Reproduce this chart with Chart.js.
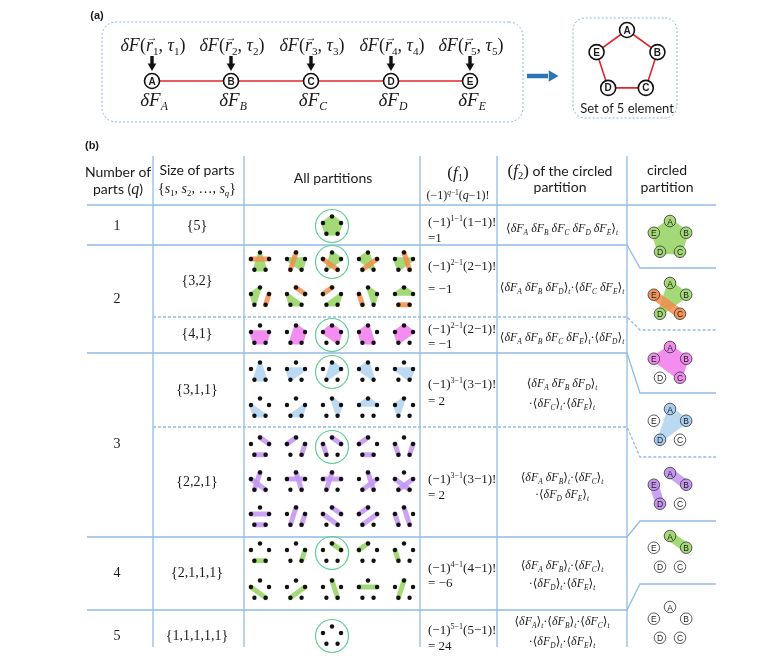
<!DOCTYPE html>
<html>
<head>
<meta charset="utf-8">
<script src="https://cdn.jsdelivr.net/npm/chart.js@4.4.1/dist/chart.umd.min.js"></script>
<style>
  body { margin: 0; background: #fff; }
  #wrap { position: relative; width: 764px; height: 663px; overflow: hidden; }
  #fig { position: absolute; left: 0; top: 0; }
  .t { position: absolute; white-space: nowrap; transform: translate(-50%, -50%); line-height: 1; color: #1a1a1a; }
  .l { transform: translate(0, -50%); }
  .serif { font-family: 'Liberation Serif', 'DejaVu Serif', serif; }
  .sans { font-family: Lato, 'Open Sans', sans-serif; }
  .arial { font-family: 'Liberation Sans', Arial, sans-serif; }
  .b { font-weight: bold; }
  .s8 { font-size: 8.5px; } .s10 { font-size: 10px; } .s11 { font-size: 11px; } .s12 { font-size: 12px; }
  .s13 { font-size: 13px; } .s14 { font-size: 14px; } .s16 { font-size: 16px; } .s17 { font-size: 17px; }
  .s18 { font-size: 18px; } .s19 { font-size: 19px; }
  sub, sup { font-size: 0.62em; line-height: 0; }
  sub { vertical-align: -0.35em; }
  sup { vertical-align: 0.55em; }
  .vec { position: relative; display: inline-block; }
  .vec::after { content: '\2192'; position: absolute; left: 0.08em; top: -0.38em; font-size: 0.6em; font-style: normal; }
</style>
</head>
<body>
<div id="wrap"><canvas id="fig" width="764" height="663"></canvas></div>
<script>
// ---- data ----
const letters = ['A', 'B', 'C', 'D', 'E'];
const qLabels = ['1', '2', '3', '4', '5'];
const sizeLabels = ['{5}', '{3,2}', '{4,1}', '{3,1,1}', '{2,2,1}', '{2,1,1,1}', '{1,1,1,1,1}'];
const f1Q = [1, 2, 2, 3, 3, 4, 5];
const f1Values = ['=1', '= −1', '= −1', '= 2', '= 2', '= −6', '= 24'];
const f2Lines = [
  ['[ABCDE]'],
  ['[ABD]·[CE]'],
  ['[ABCE]·[D]'],
  ['[ABD]', '·[C]·[E]'],
  ['[AB]·[C]', '·[DE]'],
  ['[AB]·[C]', '·[D]·[E]'],
  ['[A]·[B]·[C]', '·[D]·[E]']
];
// every partition of the 5 elements, grouped by size of parts
const parts5 = [['ABCDE']];
const parts32 = [['ACD', 'BE'], ['BCE', 'AD'], ['ABD', 'CE'], ['ACE', 'BD'], ['BDE', 'AC'],
                 ['ADE', 'BC'], ['CDE', 'AB'], ['BCD', 'AE'], ['ABC', 'DE'], ['ABE', 'CD']];
const parts41 = [['BCDE', 'A'], ['ABCD', 'E'], ['ABCE', 'D'], ['ACDE', 'B'], ['ABDE', 'C']];
const parts311 = [['ACD', 'B', 'E'], ['BDE', 'A', 'C'], ['ABD', 'C', 'E'], ['ACE', 'B', 'D'], ['BCE', 'A', 'D'],
                  ['CDE', 'A', 'B'], ['BCD', 'A', 'E'], ['ABC', 'D', 'E'], ['ABE', 'C', 'D'], ['ADE', 'B', 'C']];
const parts221 = [['AB', 'CD', 'E'], ['AE', 'BC', 'D'], ['AB', 'DE', 'C'], ['AE', 'CD', 'B'], ['BC', 'DE', 'A'],
                  ['AD', 'CE', 'B'], ['AC', 'BE', 'D'], ['AD', 'BE', 'C'], ['AC', 'BD', 'E'], ['BD', 'CE', 'A'],
                  ['BE', 'CD', 'A'], ['AD', 'BC', 'E'], ['AB', 'CE', 'D'], ['AE', 'BD', 'C'], ['AC', 'DE', 'B']];
const parts2111 = [['CD', 'A', 'B', 'E'], ['BC', 'A', 'D', 'E'], ['AB', 'C', 'D', 'E'], ['AE', 'B', 'C', 'D'], ['DE', 'A', 'B', 'C'],
                   ['CE', 'A', 'B', 'D'], ['BD', 'A', 'C', 'E'], ['AC', 'B', 'D', 'E'], ['BE', 'A', 'C', 'D'], ['AD', 'B', 'C', 'E']];
const parts11111 = [['A', 'B', 'C', 'D', 'E']];
const partitions = [parts5, parts32, parts41, parts311, parts221, parts2111, parts11111];
const circledIndex = [0, 2, 2, 2, 2, 2, 0];

// ---- styles / layout ----
const green = '#a3d977';
const blockColors = [
  { 5: green },
  { 3: green, 2: 'rgba(242,140,76,0.85)' },
  { 4: '#f38ef0' },
  { 3: '#bcd9f2' },
  { 2: 'rgba(196,150,240,0.88)' },
  { 2: green },
  {}
];
const solidColors = [
  { 5: green }, { 3: green, 2: '#f2935a' }, { 4: '#f08aec' }, { 3: '#a9cdee' }, { 2: '#c596ef' }, { 2: green }, {}
];
const gridCols = [260, 296, 332, 368, 404];
const gridRows = [[226], [262, 297], [335], [372, 408], [447, 482, 517], [553, 590], [636]];
const rightCenters = [238, 300, 364, 426, 490, 553, 624];
const sizeY = [226, 281, 334, 390, 482, 573, 636];
const qY = [226, 299, 444, 573, 636];
const f1Y = [[221, 237], [265, 288], [328, 343], [383, 400], [478, 494], [567, 582], [629, 645]];
const f2Y = [[228], [287], [337], [383, 403], [477, 494], [565, 583], [621, 641]];
const aX = [152, 231, 311, 391, 470];
const lineBlue = '#92bce6';

const wrap = document.getElementById('wrap');
function addText(x, y, html, cls) {
  const d = document.createElement('div');
  d.className = 't ' + cls;
  d.style.left = x + 'px';
  d.style.top = y + 'px';
  d.innerHTML = html;
  wrap.appendChild(d);
}

function vtx(cx, cy, r, ch) {
  const a = (-90 + 72 * letters.indexOf(ch)) * Math.PI / 180;
  return { x: cx + r * Math.cos(a), y: cy + r * Math.sin(a) };
}

const datasets = [];
function addLine(pts, color, width, order, extra) {
  datasets.push(Object.assign({
    data: pts, showLine: true, borderColor: color, borderWidth: width,
    pointRadius: 0, pointHoverRadius: 0, fill: false, order: order
  }, extra || {}));
}
function addPoints(pts, opts, order) {
  datasets.push(Object.assign({ data: pts, showLine: false, order: order }, opts));
}
function addBlock(block, cx, cy, r, color, barW, polyW) {
  const pts = block.split('').map(ch => vtx(cx, cy, r, ch));
  if (pts.length === 2) {
    addLine(pts, color, barW, 14, { borderCapStyle: 'round' });
  } else if (pts.length > 2) {
    pts.push(pts[0]);
    addLine(pts, color, polyW, 16, { fill: 'shape', backgroundColor: color, borderJoinStyle: 'round' });
  }
}
function roundRect(x0, y0, x1, y1, r) {
  const pts = [];
  const corners = [[x1 - r, y0 + r, -90], [x1 - r, y1 - r, 0], [x0 + r, y1 - r, 90], [x0 + r, y0 + r, 180]];
  corners.forEach(([cx, cy, a0]) => {
    for (let k = 0; k <= 8; k++) {
      const a = (a0 + k * 90 / 8) * Math.PI / 180;
      pts.push({ x: cx + r * Math.cos(a), y: cy + r * Math.sin(a) });
    }
  });
  pts.push(pts[0]);
  return pts;
}

// ---- (a) ----
addLine(roundRect(102, 22, 523, 122, 14), '#8db3da', 1, 20, { borderDash: [2, 2] });
addLine(roundRect(573, 18, 677, 118, 12), '#8db3da', 1, 20, { borderDash: [2, 2] });
addLine(aX.map(x => ({ x: x, y: 81 })), '#e2242c', 1.6, 12);
aX.forEach(x => addLine([{ x: x, y: 56 }, { x: x, y: 64 }], '#111', 3.4, 11));
addPoints(aX.map(x => ({ x: x, y: 66 })), { pointStyle: 'triangle', pointRotation: 180, pointRadius: 5, pointBackgroundColor: '#111', pointBorderWidth: 0 }, 10);
addPoints(aX.map(x => ({ x: x, y: 81 })), { pointRadius: 7.5, pointBackgroundColor: '#fff', pointBorderColor: '#111', pointBorderWidth: 1.6 }, 3);
const penta = letters.map(ch => vtx(627, 62, 32, ch));
addLine(penta.concat([penta[0]]), '#e2242c', 1.6, 12);
addPoints(penta, { pointRadius: 7.5, pointBackgroundColor: '#fff', pointBorderColor: '#111', pointBorderWidth: 1.6 }, 3);
addLine([{ x: 527, y: 76 }, { x: 548, y: 76 }], '#2e75b6', 4.5, 11);
addPoints([{ x: 552, y: 76 }], { pointStyle: 'triangle', pointRotation: 90, pointRadius: 6.5, pointBackgroundColor: '#2e75b6', pointBorderWidth: 0 }, 10);

addText(97, 15, '(a)', 'arial b s11');
aX.forEach((x, i) => {
  addText(x + 1, 45, '<i>δF</i>(<i class="vec">r</i><sub>' + (i + 1) + '</sub>, <i>τ</i><sub>' + (i + 1) + '</sub>)', 'serif s18');
  addText(x, 81.5, letters[i], 'arial b s10');
  addText(x + 2, 99, '<i>δF<sub>' + letters[i] + '</sub></i>', 'serif s19');
});
penta.forEach((p, i) => addText(p.x, p.y + 0.5, letters[i], 'arial b s10'));
addText(627, 108, 'Set of 5 element', 'sans s13');

// ---- (b) table ----
addText(92, 145, '(b)', 'arial b s11');
[153, 244, 420, 497, 627].forEach(x => addLine([{ x: x, y: 156 }, { x: x, y: 647 }], lineBlue, 1.3, 20));
addLine([{ x: 87, y: 205 }, { x: 716, y: 205 }], lineBlue, 1.3, 20);
const hLines = [[245, 87, 268, false], [317, 153, 330, true], [353, 87, 393, false], [427, 153, 457, true], [537, 87, 521, false], [610, 87, 584, false]];
hLines.forEach(([y, x0, y2, dashed]) => {
  addLine([{ x: x0, y: y }, { x: 627, y: y }, { x: 640, y: y2 }, { x: 716, y: y2 }], lineBlue, 1.3, 20, dashed ? { borderDash: [3, 2] } : {});
});

// all partitions grid
const dotPts = [];
const ringPts = [];
partitions.forEach((group, g) => {
  group.forEach((part, i) => {
    const cx = group.length === 1 ? 332 : gridCols[i % 5];
    const cy = gridRows[g][Math.floor(i / 5)];
    part.forEach(block => addBlock(block, cx, cy, 9.5, blockColors[g][block.length], 5, 3.5));
    letters.forEach(ch => dotPts.push(vtx(cx, cy, 9.5, ch)));
    if (i === circledIndex[g]) ringPts.push({ x: cx, y: cy });
  });
});
addPoints(dotPts, { pointRadius: 2.2, pointBackgroundColor: '#111', pointBorderWidth: 0 }, 5);
addPoints(ringPts, { pointRadius: 16.5, pointBackgroundColor: 'rgba(0,0,0,0)', pointBorderColor: '#60cf92', pointBorderWidth: 1.2 }, 6);

// circled partition column
partitions.forEach((group, g) => {
  const part = group[circledIndex[g]];
  const cy = rightCenters[g];
  part.forEach(block => addBlock(block, 670, cy, 17, blockColors[g][block.length], 9, 5));
  const circ = [];
  const fills = [];
  part.forEach(block => block.split('').forEach(ch => {
    const p = vtx(670, cy, 17, ch);
    circ.push(p);
    fills.push(block.length > 1 ? solidColors[g][block.length] : '#fff');
    addText(p.x, p.y + 0.5, ch, 'arial s8');
  }));
  addPoints(circ, { pointRadius: 5.8, pointBackgroundColor: fills, pointBorderColor: '#333', pointBorderWidth: 0.8 }, 3);
});

// header
addText(118, 172, 'Number of', 'sans s14');
addText(118, 189, 'parts (<i class="serif s16">q</i>)', 'sans s14');
addText(197, 170, 'Size of parts', 'sans s14');
addText(197, 189, '{<i>s</i><sub>1</sub>, <i>s</i><sub>2</sub>, …, <i>s<sub>q</sub></i>}', 'serif s14');
addText(333, 178, 'All partitions', 'sans s14');
addText(458, 172, '(<i>f</i><sub>1</sub>)', 'serif s17');
addText(458, 195, '(−1)<sup><i>q</i>−1</sup>(<i>q</i>−1)!', 'serif s12');
addText(560, 170, '<span class="serif s17">(<i>f</i><sub>2</sub>)</span> of the circled', 'sans s14');
addText(560, 187, 'partition', 'sans s14');
addText(667, 170, 'circled', 'sans s14');
addText(667, 187, 'partition', 'sans s14');

// body text
qLabels.forEach((q, i) => addText(117, qY[i], q, 'serif s14'));
sizeLabels.forEach((s, i) => addText(197, sizeY[i], s, 'serif s14'));
function bra(s) {
  return s.replace(/\[([A-E]+)\]/g, (m, grp) =>
    '⟨' + grp.split('').map(c => '<i>δF</i><sub><i>' + c + '</i></sub>').join(' ') + '⟩<sub><i>t</i></sub>');
}
f1Q.forEach((q, i) => {
  addText(428, f1Y[i][0], '(−1)<sup>' + q + '−1</sup>(' + q + '−1)!', 'serif s13 l');
  addText(428, f1Y[i][1], f1Values[i], 'serif s13 l');
  f2Lines[i].forEach((line, k) => addText(562, f2Y[i][k], bra(line), 'serif s12'));
});

new Chart(document.getElementById('fig'), {
  type: 'scatter',
  data: { datasets: datasets },
  options: {
    responsive: false,
    animation: false,
    events: [],
    layout: { padding: 0, autoPadding: false },
    scales: {
      x: { type: 'linear', min: 0, max: 764, display: false },
      y: { type: 'linear', min: 0, max: 663, reverse: true, display: false }
    },
    plugins: { legend: { display: false }, tooltip: { enabled: false } },
    elements: { line: { tension: 0 } }
  }
});
</script>
</body>
</html>
